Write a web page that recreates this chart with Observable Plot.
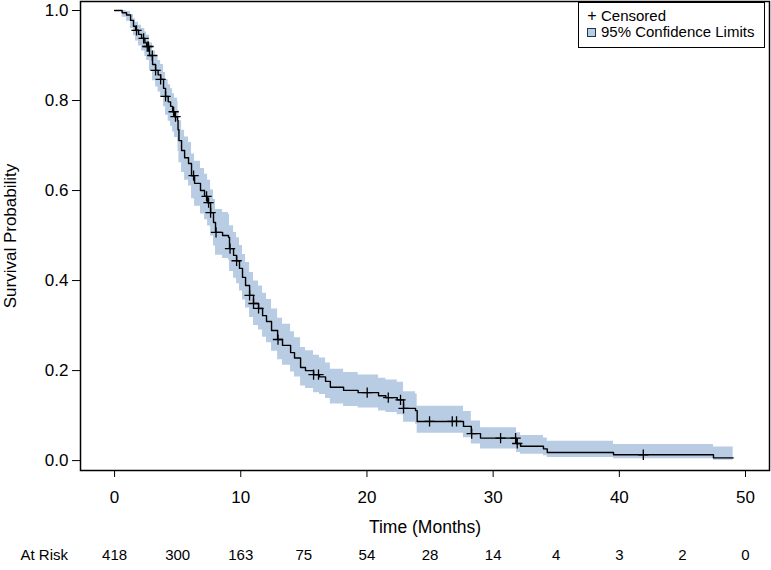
<!DOCTYPE html>
<html>
<head>
<meta charset="utf-8">
<script src="https://cdn.jsdelivr.net/npm/d3@7"></script>
<script src="https://cdn.jsdelivr.net/npm/@observablehq/plot@0.6"></script>
<style>
  html, body { margin: 0; padding: 0; background: #fff; }
  #wrap { position: relative; width: 771px; height: 570px; font-family: "Liberation Sans", Arial, sans-serif; }
  #legend { position: absolute; left: 578px; top: 2px; width: 187px; height: 46px; border: 1px solid #000; background: #fff; box-sizing: border-box; font-size: 15px; color: #000; }
  #legend .row { position: absolute; left: 0; height: 16px; line-height: 16px; white-space: nowrap; }
  #legend .sym { position: absolute; left: 8px; width: 10px; text-align: center; font-size: 16px; }
  #legend .txt { position: absolute; left: 22px; }
  #legend .sw { position: absolute; left: 8px; top: 4px; width: 7px; height: 7px; background: #b8cce4; border: 1px solid #1f3550; }
</style>
</head>
<body>
<div id="wrap"></div>
<script>
// Kaplan-Meier step curve (time in months, survival probability, 95% CI)
const times = [0, 0.6, 0.95, 1.27, 1.5, 1.66, 1.9, 2.14, 2.4, 2.54, 2.77, 3.01, 3.25, 3.45, 3.65, 3.88, 4.04, 4.25, 4.44, 4.6, 4.75, 4.99, 5.03, 5.1, 5.31, 5.55, 5.86, 6.1, 6.34, 6.81, 7.13, 7.37, 7.61, 7.84, 8.0, 8.56, 9.03, 9.11, 9.43, 9.67, 9.9, 10.14, 10.38, 10.7, 11.01, 11.41, 11.73, 12.04, 12.44, 12.92, 13.31, 13.95, 14.26, 14.74, 15.13, 15.77, 16.24, 16.72, 17.1, 18.15, 19.3, 20.92, 21.5, 22.4, 22.9, 23.85, 23.98, 27.65, 28.27, 29.0, 31.85, 32.17, 33.99, 34.29, 39.54, 47.46, 49.02];
const surv  = [1.0, 0.995, 0.99, 0.978, 0.965, 0.956, 0.947, 0.938, 0.928, 0.92, 0.9, 0.88, 0.867, 0.857, 0.847, 0.827, 0.809, 0.797, 0.787, 0.775, 0.764, 0.756, 0.735, 0.711, 0.689, 0.673, 0.66, 0.633, 0.616, 0.6, 0.587, 0.573, 0.551, 0.529, 0.507, 0.5, 0.496, 0.471, 0.456, 0.444, 0.427, 0.407, 0.389, 0.367, 0.349, 0.338, 0.322, 0.309, 0.289, 0.269, 0.256, 0.24, 0.228, 0.207, 0.2, 0.191, 0.186, 0.176, 0.163, 0.156, 0.151, 0.144, 0.14, 0.135, 0.116, 0.111, 0.087, 0.076, 0.06, 0.05, 0.038, 0.032, 0.026, 0.018, 0.013, 0.006, 0.006];
const lower = [1.0, 0.985, 0.976, 0.96, 0.944, 0.932, 0.921, 0.91, 0.898, 0.889, 0.866, 0.844, 0.83, 0.819, 0.808, 0.786, 0.767, 0.754, 0.743, 0.73, 0.718, 0.709, 0.687, 0.662, 0.64, 0.623, 0.61, 0.582, 0.565, 0.548, 0.535, 0.521, 0.499, 0.477, 0.456, 0.449, 0.445, 0.42, 0.405, 0.393, 0.377, 0.357, 0.339, 0.318, 0.3, 0.29, 0.274, 0.262, 0.243, 0.224, 0.212, 0.197, 0.186, 0.166, 0.16, 0.151, 0.147, 0.138, 0.126, 0.12, 0.117, 0.11, 0.107, 0.102, 0.085, 0.081, 0.061, 0.051, 0.037, 0.026, 0.018, 0.014, 0.011, 0.007, 0.004, 0.001, 0.001];
const upper = [1.0, 1.0, 0.998, 0.991, 0.981, 0.974, 0.967, 0.96, 0.952, 0.945, 0.928, 0.91, 0.898, 0.889, 0.88, 0.862, 0.846, 0.835, 0.826, 0.815, 0.805, 0.798, 0.778, 0.755, 0.734, 0.719, 0.707, 0.681, 0.665, 0.649, 0.636, 0.623, 0.601, 0.58, 0.558, 0.551, 0.547, 0.522, 0.507, 0.495, 0.478, 0.458, 0.44, 0.418, 0.399, 0.388, 0.372, 0.358, 0.337, 0.316, 0.303, 0.286, 0.273, 0.251, 0.244, 0.234, 0.228, 0.217, 0.203, 0.196, 0.19, 0.183, 0.179, 0.174, 0.153, 0.148, 0.121, 0.109, 0.088, 0.073, 0.062, 0.056, 0.05, 0.043, 0.036, 0.03, 0.03];

// Censored observations (months)
const censorTimes = [1.74, 2.3, 2.59, 2.69, 2.99, 3.25, 3.65, 4.04, 4.68, 4.83, 6.26, 7.29, 7.45, 7.61, 8.04, 9.15, 9.67, 10.7, 11.01, 11.41, 12.95, 15.77, 16.16, 20.02, 21.69, 22.66, 22.9, 24.96, 26.76, 27.1, 28.3, 30.59, 31.78, 31.91, 41.9];

// Number at risk
const atRiskTimes  = [0, 5, 10, 15, 20, 25, 30, 35, 40, 45, 50];
const atRiskCounts = [418, 300, 163, 75, 54, 28, 14, 4, 3, 2, 0];

// Axis ticks
const xTicks = [0, 10, 20, 30, 40, 50];
const yTicks = [0, 0.2, 0.4, 0.6, 0.8, 1.0];

const km = times.map((t, i) => ({t, s: surv[i], lo: lower[i], hi: upper[i]}));
const cens = censorTimes.map(t => {
  const i = Math.max(0, d3.bisectRight(times, t) - 1);
  return {t, s: surv[i]};
});
const risk = atRiskTimes.map((t, i) => ({t, n: atRiskCounts[i]}));

const font = '"Liberation Sans", Arial, sans-serif';

const chart = Plot.plot({
  width: 771,
  height: 570,
  marginLeft: 80,
  marginRight: 2,
  marginTop: 1,
  marginBottom: 100,
  style: {fontFamily: font, fontSize: "17px", color: "#000", background: "#fff"},
  x: {domain: [-2.7, 51.9], ticks: xTicks, tickSize: 7, tickPadding: 13, label: null},
  y: {domain: [-0.022, 1.02], ticks: yTicks, tickFormat: d3.format(".1f"), tickSize: 8, tickPadding: 4, label: null},
  marks: [
    Plot.areaY(km, {x: "t", y1: "lo", y2: "hi", curve: "step-after", fill: "#b8cce4"}),
    Plot.line(km, {x: "t", y: "s", curve: "step-after", stroke: "#000", strokeWidth: 1.4}),
    Plot.dot(cens, {x: "t", y: "s", symbol: "plus", r: 3.4, stroke: "#000", strokeWidth: 1.3}),
    Plot.frame({stroke: "#000", strokeWidth: 1.5}),
    Plot.text(risk, {x: "t", text: d => String(d.n), frameAnchor: "bottom", dy: 89, fontSize: 15, fill: "#000"}),
    Plot.text(["At Risk"], {frameAnchor: "bottom-left", dx: -60, dy: 89, textAnchor: "start", fontSize: 15, fill: "#000"}),
    Plot.text(["Time (Months)"], {frameAnchor: "bottom", dy: 62, fontSize: 17.5, fill: "#000"}),
    Plot.text(["Survival Probability"], {frameAnchor: "left", dx: -70, textAnchor: "middle", rotate: -90, fontSize: 17, fill: "#000"})
  ]
});

const wrap = document.getElementById("wrap");
wrap.appendChild(chart);

const legend = document.createElement("div");
legend.id = "legend";
legend.innerHTML =
  '<div class="row" style="top:5px"><span class="sym">+</span><span class="txt">Censored</span></div>' +
  '<div class="row" style="top:21px"><span class="sw"></span><span class="txt">95% Confidence Limits</span></div>';
wrap.appendChild(legend);
</script>
</body>
</html>
